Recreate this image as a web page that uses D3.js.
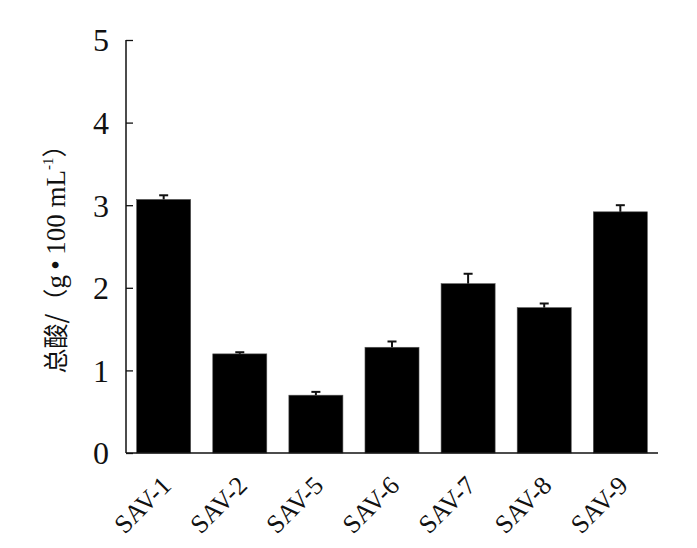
<!DOCTYPE html>
<html>
<head>
<meta charset="utf-8">
<script src="https://cdn.jsdelivr.net/npm/d3@7"></script>
<style>
  body { margin: 0; background: #fff; }
  svg text { font-family: "Liberation Serif", "Times New Roman", "Noto Sans CJK SC", serif; fill: #111; }
</style>
</head>
<body>
<div id="chart"></div>
<script>
// DATA
const categories = ["SAV-1", "SAV-2", "SAV-5", "SAV-6", "SAV-7", "SAV-8", "SAV-9"];
const totalAcid = [3.07, 1.20, 0.70, 1.28, 2.05, 1.76, 2.92];
const errors = [0.05, 0.02, 0.04, 0.07, 0.12, 0.05, 0.08];
const yTicks = [0, 1, 2, 3, 4, 5];

const WIDTH = 697;
const HEIGHT = 548;
const MARGIN = { LEFT: 126, RIGHT: 39, TOP: 40, BOTTOM: 95 };
const innerW = WIDTH - MARGIN.LEFT - MARGIN.RIGHT;
const innerH = HEIGHT - MARGIN.TOP - MARGIN.BOTTOM;

const data = categories.map((c, i) => ({ name: c, value: totalAcid[i], err: errors[i] }));

const svg = d3
  .select("#chart")
  .append("svg")
  .attr("width", WIDTH)
  .attr("height", HEIGHT);

const chart = svg
  .append("g")
  .attr("transform", `translate(${MARGIN.LEFT}, ${MARGIN.TOP})`);

let x = d3
  .scaleBand()
  .domain(categories)
  .range([0, innerW])
  .paddingInner(0.29)
  .paddingOuter(0.14);

let y = d3.scaleLinear().domain([0, 5]).range([innerH, 0]);

// BARS
chart
  .selectAll("rect.bar")
  .data(data)
  .enter()
  .append("rect")
  .attr("class", "bar")
  .attr("x", (d) => x(d.name))
  .attr("y", (d) => y(d.value))
  .attr("width", x.bandwidth())
  .attr("height", (d) => y(0) - y(d.value))
  .attr("fill", "#000")
  .attr("stroke", "#555")
  .attr("stroke-width", 0.6);

// ERROR BARS (upper only)
const errG = chart.selectAll("g.err").data(data).enter().append("g").attr("class", "err");
errG
  .append("line")
  .attr("x1", (d) => x(d.name) + x.bandwidth() / 2)
  .attr("x2", (d) => x(d.name) + x.bandwidth() / 2)
  .attr("y1", (d) => y(d.value))
  .attr("y2", (d) => y(d.value + d.err))
  .attr("stroke", "#111")
  .attr("stroke-width", 2);
errG
  .append("line")
  .attr("x1", (d) => x(d.name) + x.bandwidth() / 2 - 4.5)
  .attr("x2", (d) => x(d.name) + x.bandwidth() / 2 + 4.5)
  .attr("y1", (d) => y(d.value + d.err))
  .attr("y2", (d) => y(d.value + d.err))
  .attr("stroke", "#111")
  .attr("stroke-width", 2);

// AXIS
const yAxisGroup = chart.append("g").attr("class", "yAxis");
yAxisGroup
  .call(d3.axisRight(y).tickValues(yTicks).tickSize(7).tickFormat(d3.format("d")))
  .call((g) => {
    g.select(".domain").remove();
    g.selectAll(".tick line").attr("stroke", "#111").attr("stroke-width", 1.3);
    g.selectAll(".tick text")
      .attr("x", -17)
      .attr("dy", "0.34em")
      .attr("text-anchor", "end")
      .attr("font-size", "32px");
  });

chart
  .append("line")
  .attr("x1", 0)
  .attr("x2", 0)
  .attr("y1", y(5))
  .attr("y2", y(0))
  .attr("stroke", "#111")
  .attr("stroke-width", 1.5);

chart
  .append("line")
  .attr("x1", 0)
  .attr("x2", innerW)
  .attr("y1", y(0))
  .attr("y2", y(0))
  .attr("stroke", "#111")
  .attr("stroke-width", 1.5);

// X LABELS (rotated -45, ending under each bar)
const xLabels = chart
  .append("g")
  .attr("class", "xLabels")
  .selectAll("g")
  .data(categories)
  .enter()
  .append("g")
  .attr("transform", (d) => `translate(${x(d) + x.bandwidth() / 2 + 9}, ${innerH + 34}) rotate(-45)`);
xLabels
  .append("text")
  .attr("text-anchor", "end")
  .attr("font-size", "26px")
  .text((d) => d);

// LABEL
const yLabel = svg
  .append("text")
  .attr("text-anchor", "middle")
  .attr("font-size", "27px")
  .attr("transform", "translate(65, 253) rotate(-90)");
yLabel.append("tspan").attr("font-family", "Noto Sans CJK SC").attr("font-size", "25px").text("总酸/（");
yLabel.append("tspan").text("g\u2009•\u2009100 mL");
yLabel.append("tspan").attr("font-size", "15px").attr("dy", "-0.8em").text("-1");
yLabel.append("tspan").attr("dy", "0.45em").attr("font-family", "Noto Sans CJK SC").attr("font-size", "25px").text("）");
</script>
</body>
</html>
